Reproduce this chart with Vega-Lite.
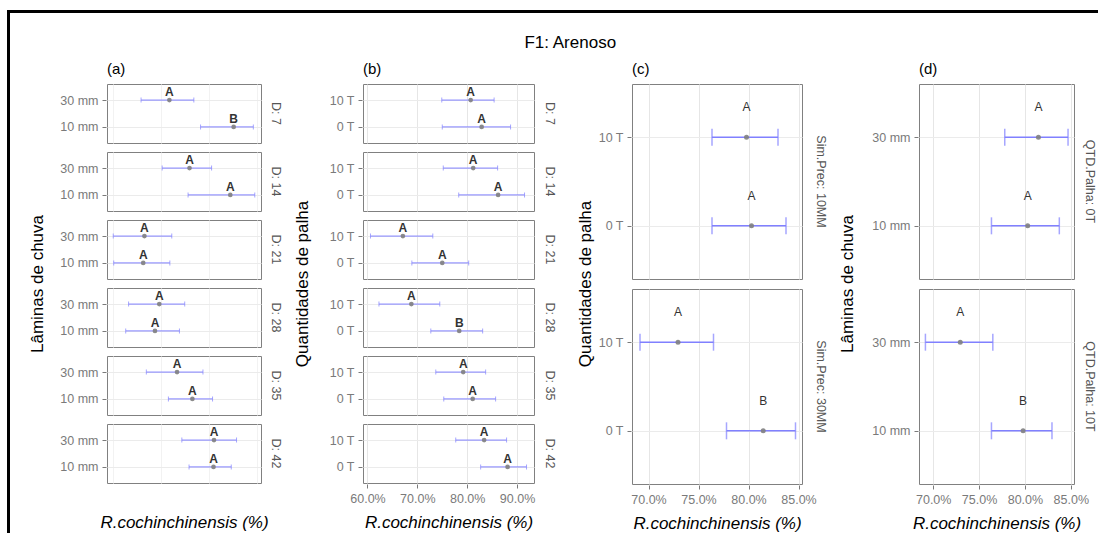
{
  "$schema": "https://vega.github.io/schema/vega-lite/v6.json",
  "background": "white",
  "padding": {"left": 7, "top": 10, "right": 0, "bottom": 0},
  "datasets": {
    "a": [
      {"dia": "D: 7", "lamina": "30 mm", "media": 76.7, "inf": 70.8, "sup": 81.8, "letra": "A"},
      {"dia": "D: 7", "lamina": "10 mm", "media": 90.1, "inf": 83.2, "sup": 94.2, "letra": "B"},
      {"dia": "D: 14", "lamina": "30 mm", "media": 80.9, "inf": 75.2, "sup": 85.5, "letra": "A"},
      {"dia": "D: 14", "lamina": "10 mm", "media": 89.4, "inf": 80.6, "sup": 94.5, "letra": "A"},
      {"dia": "D: 21", "lamina": "30 mm", "media": 71.5, "inf": 65.0, "sup": 77.2, "letra": "A"},
      {"dia": "D: 21", "lamina": "10 mm", "media": 71.25, "inf": 65.1, "sup": 76.8, "letra": "A"},
      {"dia": "D: 28", "lamina": "30 mm", "media": 74.6, "inf": 68.2, "sup": 79.9, "letra": "A"},
      {"dia": "D: 28", "lamina": "10 mm", "media": 73.7, "inf": 67.6, "sup": 78.8, "letra": "A"},
      {"dia": "D: 35", "lamina": "30 mm", "media": 78.3, "inf": 71.9, "sup": 83.7, "letra": "A"},
      {"dia": "D: 35", "lamina": "10 mm", "media": 81.5, "inf": 76.5, "sup": 85.7, "letra": "A"},
      {"dia": "D: 42", "lamina": "30 mm", "media": 86.0, "inf": 79.3, "sup": 90.7, "letra": "A"},
      {"dia": "D: 42", "lamina": "10 mm", "media": 85.9, "inf": 80.8, "sup": 89.6, "letra": "A"}
    ],
    "b": [
      {"dia": "D: 7", "palha": "10 T", "media": 80.7, "inf": 74.9, "sup": 85.4, "letra": "A"},
      {"dia": "D: 7", "palha": "0 T", "media": 82.9, "inf": 75.0, "sup": 88.7, "letra": "A"},
      {"dia": "D: 14", "palha": "10 T", "media": 81.2, "inf": 75.2, "sup": 86.1, "letra": "A"},
      {"dia": "D: 14", "palha": "0 T", "media": 86.2, "inf": 78.3, "sup": 91.5, "letra": "A"},
      {"dia": "D: 21", "palha": "10 T", "media": 67.1, "inf": 60.6, "sup": 73.1, "letra": "A"},
      {"dia": "D: 21", "palha": "0 T", "media": 75.0, "inf": 68.9, "sup": 80.3, "letra": "A"},
      {"dia": "D: 28", "palha": "10 T", "media": 68.8, "inf": 62.3, "sup": 74.5, "letra": "A"},
      {"dia": "D: 28", "palha": "0 T", "media": 78.4, "inf": 72.7, "sup": 83.1, "letra": "B"},
      {"dia": "D: 35", "palha": "10 T", "media": 79.2, "inf": 73.7, "sup": 83.7, "letra": "A"},
      {"dia": "D: 35", "palha": "0 T", "media": 81.1, "inf": 75.3, "sup": 85.7, "letra": "A"},
      {"dia": "D: 42", "palha": "10 T", "media": 83.4, "inf": 77.7, "sup": 87.9, "letra": "A"},
      {"dia": "D: 42", "palha": "0 T", "media": 88.1, "inf": 82.7, "sup": 91.9, "letra": "A"}
    ],
    "c": [
      {"prec": "Sim.Prec: 10MM", "palha": "10 T", "media": 79.8, "inf": 76.35, "sup": 82.95, "letra": "A"},
      {"prec": "Sim.Prec: 10MM", "palha": "0 T", "media": 80.3, "inf": 76.35, "sup": 83.75, "letra": "A"},
      {"prec": "Sim.Prec: 30MM", "palha": "10 T", "media": 72.95, "inf": 69.15, "sup": 76.5, "letra": "A"},
      {"prec": "Sim.Prec: 30MM", "palha": "0 T", "media": 81.47, "inf": 77.8, "sup": 84.7, "letra": "B"}
    ],
    "d": [
      {"qtd": "QTD.Palha: 0T", "lamina": "30 mm", "media": 81.47, "inf": 77.8, "sup": 84.7, "letra": "A"},
      {"qtd": "QTD.Palha: 0T", "lamina": "10 mm", "media": 80.3, "inf": 76.35, "sup": 83.75, "letra": "A"},
      {"qtd": "QTD.Palha: 10T", "lamina": "30 mm", "media": 72.95, "inf": 69.15, "sup": 76.5, "letra": "A"},
      {"qtd": "QTD.Palha: 10T", "lamina": "10 mm", "media": 79.8, "inf": 76.35, "sup": 82.95, "letra": "B"}
    ]
  },
  "spacing": 0,
  "hconcat": [
    {
      "description": "left edge of the frame",
      "width": 1, "height": 530,
      "view": {"stroke": "#000000", "strokeWidth": 2},
      "data": {"values": []},
      "mark": "rule",
      "encoding": {}
    },
    {
      "spacing": 20,
      "vconcat": [
        {
          "description": "top edge of the frame",
          "width": 1200, "height": 1,
          "view": {"stroke": "#000000", "strokeWidth": 2},
          "data": {"values": []},
          "mark": "rule",
          "encoding": {}
        },
        {
          "spacing": 16,
          "hconcat": [
            {
              "width": 1, "height": 1,
              "view": {"stroke": null},
              "data": {"values": []},
              "mark": "rule",
              "encoding": {}
            },
            {
              "title": {"text": "F1: Arenoso", "fontSize": 17, "anchor": "middle", "offset": 10, "dx": 8},
              "spacing": 20,
              "hconcat": [
                {
                  "spacing": 11,
                  "hconcat": [
                    {
                      "title": {"text": "(a)", "anchor": "start", "frame": "group", "offset": 7},
                      "data": {"name": "a"},
                      "facet": {"row": {"field": "dia", "type": "nominal", "title": "Lâminas de chuva", "header": {"titlePadding": 2, "labelPadding": 7}, "sort": ["D: 7", "D: 14", "D: 21", "D: 28", "D: 35", "D: 42"]}},
                      "spacing": 7,
                      "spec": {
                        "width": 154,
                        "height": 59,
                        "encoding": {
                          "y": {"field": "lamina", "type": "nominal", "sort": ["30 mm", "10 mm"], "scale": {"type": "point", "padding": 0.6}, "axis": {"title": null, "grid": true}}
                        },
                        "layer": [
                          {
                            "mark": {"type": "errorbar", "ticks": {"size": 5}, "thickness": 1, "color": "#8080ff"},
                            "encoding": {
                              "x": {"field": "inf", "type": "quantitative", "title": "R.cochinchinensis (%)",
                                "scale": {"domain": [63.7, 95.8], "nice": false, "zero": false},
                                "axis": {"values": [65, 70, 75, 80, 85, 90, 95], "labelExpr": "datum.value % 10 === 0 ? datum.value + '%' : ''",
                                  "gridColor": {"condition": {"test": "datum.value % 10 === 0", "value": "#e6e6e6"}, "value": "#f2f2f2"},
                                  "tickOpacity": {"condition": {"test": "datum.value % 10 === 0", "value": 1}, "value": 0},
                                  "titleFontStyle": "italic", "titlePadding": 10}},
                              "x2": {"field": "sup"}
                            }
                          },
                          {
                            "mark": {"type": "point", "filled": true, "size": 22, "color": "#808080", "opacity": 0.9},
                            "encoding": {"x": {"field": "media", "type": "quantitative", "title": "R.cochinchinensis (%)"}}
                          },
                          {
                            "mark": {"type": "text", "dy": -4, "baseline": "alphabetic", "fontSize": 12, "fontWeight": "bold", "color": "#333333"},
                            "encoding": {"x": {"field": "media", "type": "quantitative", "title": "R.cochinchinensis (%)"}, "text": {"field": "letra"}}
                          }
                        ]
                      }
                    },
                    {
                      "title": {"text": "(b)", "anchor": "start", "frame": "group", "offset": 7},
                      "data": {"name": "b"},
                      "facet": {"row": {"field": "dia", "type": "nominal", "title": "Quantidades de palha", "header": {"titlePadding": 6, "labelPadding": 8}, "sort": ["D: 7", "D: 14", "D: 21", "D: 28", "D: 35", "D: 42"]}},
                      "spacing": 7,
                      "spec": {
                        "width": 171,
                        "height": 59,
                        "encoding": {
                          "y": {"field": "palha", "type": "nominal", "sort": ["10 T", "0 T"], "scale": {"type": "point", "padding": 0.6}, "axis": {"title": null, "grid": true}}
                        },
                        "layer": [
                          {
                            "mark": {"type": "errorbar", "ticks": {"size": 5}, "thickness": 1, "color": "#8080ff"},
                            "encoding": {
                              "x": {"field": "inf", "type": "quantitative", "title": "R.cochinchinensis (%)",
                                "scale": {"domain": [59.1, 93.4], "nice": false, "zero": false},
                                "axis": {"values": [60, 65, 70, 75, 80, 85, 90], "labelExpr": "datum.value % 10 === 0 ? format(datum.value, '.1f') + '%' : ''",
                                  "gridColor": {"condition": {"test": "datum.value % 10 === 0", "value": "#e6e6e6"}, "value": "#f2f2f2"},
                                  "tickOpacity": {"condition": {"test": "datum.value % 10 === 0", "value": 1}, "value": 0},
                                  "titleFontStyle": "italic", "titlePadding": 10}},
                              "x2": {"field": "sup"}
                            }
                          },
                          {
                            "mark": {"type": "point", "filled": true, "size": 22, "color": "#808080", "opacity": 0.9},
                            "encoding": {"x": {"field": "media", "type": "quantitative", "title": "R.cochinchinensis (%)"}}
                          },
                          {
                            "mark": {"type": "text", "dy": -4, "baseline": "alphabetic", "fontSize": 12, "fontWeight": "bold", "color": "#333333"},
                            "encoding": {"x": {"field": "media", "type": "quantitative", "title": "R.cochinchinensis (%)"}, "text": {"field": "letra"}}
                          }
                        ]
                      }
                    }
                  ]
                },
                {
                  "spacing": 11,
                  "hconcat": [
                    {
                      "title": {"text": "(c)", "anchor": "start", "frame": "group", "offset": 7},
                      "data": {"name": "c"},
                      "facet": {"row": {"field": "prec", "type": "nominal", "title": "Quantidades de palha", "sort": ["Sim.Prec: 10MM", "Sim.Prec: 30MM"], "header": {"labelPadding": 11, "titlePadding": -8}}},
                      "spacing": 8,
                      "spec": {
                        "width": 170,
                        "height": 195,
                        "encoding": {
                          "y": {"field": "palha", "type": "nominal", "sort": ["10 T", "0 T"], "scale": {"type": "point", "padding": 0.6}, "axis": {"title": null, "grid": true}}
                        },
                        "layer": [
                          {
                            "mark": {"type": "errorbar", "ticks": {"size": 17}, "thickness": 1.5, "color": "#8080ff"},
                            "encoding": {
                              "x": {"field": "inf", "type": "quantitative", "title": "R.cochinchinensis (%)",
                                "scale": {"domain": [68.35, 85.35], "nice": false, "zero": false},
                                "axis": {"values": [70, 72.5, 75, 77.5, 80, 82.5, 85], "labelExpr": "datum.value % 5 === 0 ? format(datum.value, '.1f') + '%' : ''",
                                  "gridColor": {"condition": {"test": "datum.value % 5 === 0", "value": "#e6e6e6"}, "value": "#f2f2f2"},
                                  "tickOpacity": {"condition": {"test": "datum.value % 5 === 0", "value": 1}, "value": 0},
                                  "titleFontStyle": "italic", "titlePadding": 10}},
                              "x2": {"field": "sup"}
                            }
                          },
                          {
                            "mark": {"type": "point", "filled": true, "size": 25, "color": "#808080", "opacity": 0.9},
                            "encoding": {"x": {"field": "media", "type": "quantitative", "title": "R.cochinchinensis (%)"}}
                          },
                          {
                            "mark": {"type": "text", "dy": -26, "baseline": "alphabetic", "fontSize": 12, "color": "#333333"},
                            "encoding": {"x": {"field": "media", "type": "quantitative", "title": "R.cochinchinensis (%)"}, "text": {"field": "letra"}}
                          }
                        ]
                      }
                    },
                    {
                      "title": {"text": "(d)", "anchor": "start", "frame": "group", "offset": 7},
                      "data": {"name": "d"},
                      "facet": {"row": {"field": "qtd", "type": "nominal", "title": "Lâminas de chuva", "header": {"titlePadding": 4, "labelPadding": 8}, "sort": ["QTD.Palha: 0T", "QTD.Palha: 10T"]}},
                      "spacing": 8,
                      "spec": {
                        "width": 155,
                        "height": 195,
                        "encoding": {
                          "y": {"field": "lamina", "type": "nominal", "sort": ["30 mm", "10 mm"], "scale": {"type": "point", "padding": 0.6}, "axis": {"title": null, "grid": true}}
                        },
                        "layer": [
                          {
                            "mark": {"type": "errorbar", "ticks": {"size": 17}, "thickness": 1.5, "color": "#8080ff"},
                            "encoding": {
                              "x": {"field": "inf", "type": "quantitative", "title": "R.cochinchinensis (%)",
                                "scale": {"domain": [68.45, 85.35], "nice": false, "zero": false},
                                "axis": {"values": [70, 72.5, 75, 77.5, 80, 82.5, 85], "labelExpr": "datum.value % 5 === 0 ? format(datum.value, '.1f') + '%' : ''",
                                  "gridColor": {"condition": {"test": "datum.value % 5 === 0", "value": "#e6e6e6"}, "value": "#f2f2f2"},
                                  "tickOpacity": {"condition": {"test": "datum.value % 5 === 0", "value": 1}, "value": 0},
                                  "titleFontStyle": "italic", "titlePadding": 10}},
                              "x2": {"field": "sup"}
                            }
                          },
                          {
                            "mark": {"type": "point", "filled": true, "size": 25, "color": "#808080", "opacity": 0.9},
                            "encoding": {"x": {"field": "media", "type": "quantitative", "title": "R.cochinchinensis (%)"}}
                          },
                          {
                            "mark": {"type": "text", "dy": -26, "baseline": "alphabetic", "fontSize": 12, "color": "#333333"},
                            "encoding": {"x": {"field": "media", "type": "quantitative", "title": "R.cochinchinensis (%)"}, "text": {"field": "letra"}}
                          }
                        ]
                      }
                    }
                  ]
                }
              ]
            }
          ]
        }
      ]
    }
  ],
  "config": {
    "font": "Liberation Sans",
    "view": {"stroke": "#808080", "strokeWidth": 1},
    "axis": {"labelFont": "Liberation Sans", "labelFontSize": 12.5, "labelColor": "#7a7a7a", "tickColor": "#7a7a7a", "tickSize": 4, "labelPadding": 4, "domain": false, "gridColor": "#ebebeb", "titleFont": "Liberation Sans", "titleFontSize": 17, "titleFontWeight": "normal", "titleColor": "#000000"},
    "header": {"labelFont": "Liberation Sans", "labelFontSize": 12.5, "labelColor": "#555555", "labelOrient": "right", "labelAngle": 90, "labelPadding": 8, "titleOrient": "left", "titleFont": "Liberation Sans", "titleFontSize": 17, "titleFontWeight": "normal", "titleColor": "#000000"},
    "title": {"font": "Liberation Sans", "fontSize": 15, "fontWeight": "normal", "color": "#000000"}
  }
}
